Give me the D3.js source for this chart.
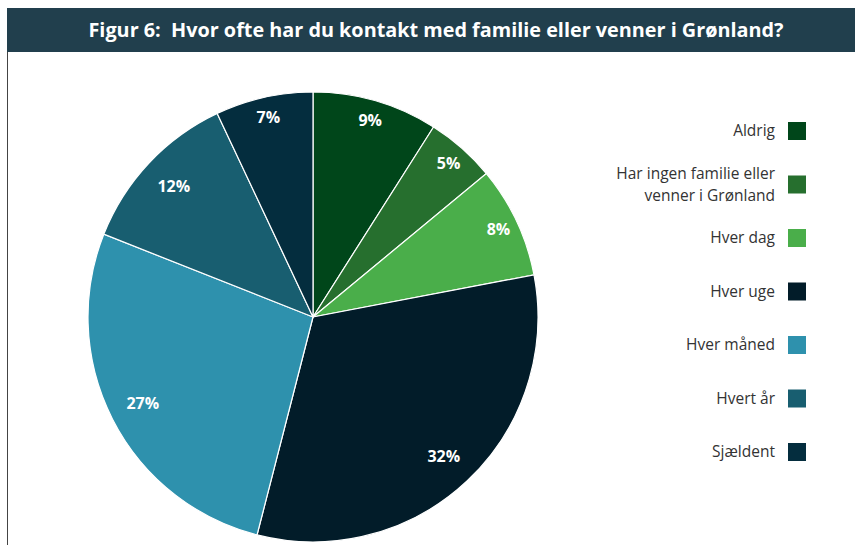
<!DOCTYPE html>
<html>
<head>
<meta charset="utf-8">
<script src="https://cdn.jsdelivr.net/npm/d3@7"></script>
<style>
  body { margin: 0; background: #fff; }
  svg text { font-family: "Open Sans", "Noto Sans", sans-serif; }
</style>
</head>
<body>
<div id="chart"></div>
<script>
const title = "Figur 6:  Hvor ofte har du kontakt med familie eller venner i Grønland?";
const categories = [
  "Aldrig",
  "Har ingen familie eller|venner i Grønland",
  "Hver dag",
  "Hver uge",
  "Hver måned",
  "Hvert år",
  "Sjældent"
];
const values = [9, 5, 8, 32, 27, 12, 7];
const colors = ["#00461a", "#266f2e", "#4aae4a", "#021c29", "#2e91ad", "#185e70", "#042d3e"];

const w = 855, h = 545;
const svg = d3.select("#chart").append("svg").attr("width", w).attr("height", h);

// title bar + left frame line
svg.append("rect").attr("x", 7).attr("y", 8).attr("width", w - 7).attr("height", 44).attr("fill", "#213f4d");
svg.append("line").attr("x1", 7.5).attr("x2", 7.5).attr("y1", 52).attr("y2", h)
  .attr("stroke", "#444").attr("stroke-width", 1);
svg.append("text")
  .attr("x", 436).attr("y", 37)
  .attr("text-anchor", "middle")
  .attr("fill", "#fff")
  .attr("font-size", 19)
  .attr("font-weight", 700)
  .attr("textLength", 695)
  .attr("lengthAdjust", "spacingAndGlyphs")
  .style("white-space", "pre")
  .text(title);

// pie
const cx = 313, cy = 317, r = 225;
const data = categories.map((c, i) => ({ name: c, value: values[i], color: colors[i] }));
const pie = d3.pie().sort(null).value(d => d.value);
const arc = d3.arc().innerRadius(0).outerRadius(r);
// small slices get their label pushed a bit further out
const labelPos = d => {
  const lr = d.data.value < 10 ? 205 : 191;
  return d3.arc().innerRadius(lr).outerRadius(lr).centroid(d);
};
const arcs = pie(data);

const g = svg.append("g").attr("transform", `translate(${cx},${cy})`);
g.selectAll("path")
  .data(arcs)
  .enter()
  .append("path")
  .attr("d", arc)
  .attr("fill", d => d.data.color)
  .attr("stroke", "#fff")
  .attr("stroke-width", 1.2);

g.selectAll("text.lbl")
  .data(arcs)
  .enter()
  .append("text")
  .attr("class", "lbl")
  .attr("transform", d => `translate(${labelPos(d)})`)
  .attr("text-anchor", "middle")
  .attr("dy", "0.35em")
  .attr("fill", "#fff")
  .attr("font-size", 16)
  .attr("font-weight", 700)
  .text(d => d.data.value + "%");

// legend
const ly = d3.scalePoint().domain(categories).range([131, 452]);
const leg = svg.append("g");
const item = leg.selectAll("g")
  .data(data)
  .enter()
  .append("g")
  .attr("transform", d => `translate(0,${ly(d.name)})`);

item.append("rect")
  .attr("x", 788).attr("y", -9)
  .attr("width", 18).attr("height", 18)
  .attr("fill", d => d.color);

item.each(function (d) {
  const lines = d.name.split("|");
  lines.forEach((ln, i) => {
    d3.select(this).append("text")
      .attr("x", 775)
      .attr("y", (i - (lines.length - 1) / 2) * 21.5)
      .attr("dy", "0.35em")
      .attr("text-anchor", "end")
      .attr("fill", "#333")
      .attr("font-size", 15.5)
      .text(ln);
  });
});
</script>
</body>
</html>
